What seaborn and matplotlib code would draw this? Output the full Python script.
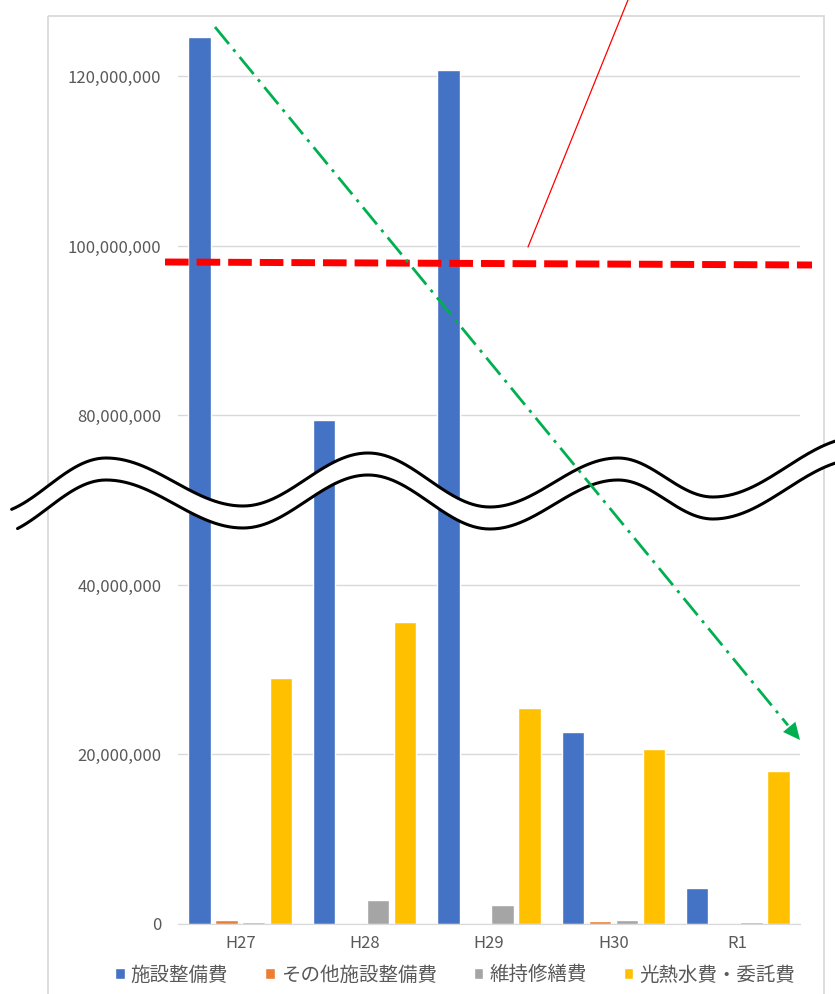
import numpy as np
import pandas as pd
import seaborn as sns
import matplotlib.pyplot as plt
from matplotlib.patches import Rectangle, Polygon

# データ（円）
years = ["H27", "H28", "H29", "H30", "R1"]
items = ["施設整備費", "その他施設整備費", "維持修繕費", "光熱水費・委託費"]
shisetsu = [124700000, 79000000, 120800000, 22700000, 4200000]
sonota = [470000, 0, 0, 300000, 0]
iji = [250000, 2830000, 2240000, 420000, 220000]
konetsu = [29000000, 35600000, 25500000, 20650000, 18050000]
colors = ["#4472C4", "#ED7D31", "#A5A5A5", "#FFC000"]
yticks = [0, 20000000, 40000000, 80000000, 100000000, 120000000]

rows = []
for name, vals in zip(items, [shisetsu, sonota, iji, konetsu]):
    for y, v in zip(years, vals):
        rows.append({"年度": y, "費目": name, "金額": v})
df = pd.DataFrame(rows)

sns.set_style("white")
plt.rcParams["font.family"] = ["Noto Sans CJK JP", "DejaVu Sans"]

W, H = 835, 994
fig = plt.figure(figsize=(W / 100, H / 100), dpi=100)

# 軸の位置（ピクセル）
ax_l, ax_r, ax_b, ax_t = 178, 800, 924, 25.6
ax = fig.add_axes([ax_l / W, 1 - ax_b / H, (ax_r - ax_l) / W, (ax_b - ax_t) / H])

sns.barplot(data=df, x="年度", y="金額", hue="費目", order=years, hue_order=items,
            palette=colors, saturation=1, width=0.87, gap=0.17, errorbar=None,
            ax=ax, zorder=2)


# 縦軸の省略（40M〜80M を圧縮）
def fwd(v):
    v = np.asarray(v, dtype=float)
    return np.where(v <= 40e6, v, np.where(v <= 80e6, 40e6 + (v - 40e6) / 2, v - 20e6))


def inv(d):
    d = np.asarray(d, dtype=float)
    return np.where(d <= 40e6, d, np.where(d <= 60e6, 40e6 + (d - 40e6) * 2, d + 20e6))


ax.set_yscale("function", functions=(fwd, inv))
ax.set_ylim(0, 126e6)
ax.set_xlim(-0.5, len(years) - 0.5)
ax.set_yticks(yticks)
ax.set_yticklabels([f"{v:,}" for v in yticks])
ax.yaxis.grid(True, color="#d9d9d9", lw=1)
ax.set_axisbelow(True)
for s in ["top", "left", "right"]:
    ax.spines[s].set_visible(False)
ax.spines["bottom"].set_color("#d9d9d9")
ax.tick_params(axis="y", length=0, pad=12, labelsize=12, labelcolor="#595959")
ax.tick_params(axis="x", length=0, pad=8, labelsize=12, labelcolor="#595959")
ax.set_xlabel("")
ax.set_ylabel("")

sns.move_legend(ax, "center", bbox_to_anchor=(455 / W, 1 - 975 / H),
                bbox_transform=fig.transFigure, ncol=4, frameon=False, title=None,
                fontsize=14, handlelength=0.5, handleheight=0.5,
                handletextpad=0.3, columnspacing=1.9)
for t in ax.get_legend().get_texts():
    t.set_color("#595959")

# 注記用のオーバーレイ（ピクセル座標）
ov = fig.add_axes([0, 0, 1, 1], zorder=5)
ov.set_xlim(0, W)
ov.set_ylim(H, 0)
ov.axis("off")

# グラフエリアの枠
ov.add_patch(Rectangle((48, 16), 776, 1100, fill=False, ec="#d9d9d9", lw=1.3))

# 波線（省略記号）
ext = [(-10, 514), (106, 458), (243, 506), (368, 453), (490, 507),
       (618, 458), (713, 497), (860, 437)]
xs, ys = [], []
for (x0, y0), (x1, y1) in zip(ext[:-1], ext[1:]):
    t = np.linspace(0, 1, 60)
    xs.append(x0 + (x1 - x0) * t)
    ys.append(y0 + (y1 - y0) * (1 - np.cos(np.pi * t)) / 2)
wx = np.concatenate(xs)
wy = np.concatenate(ys)
m = wx >= 10
ov.fill_between(wx[m], wy[m], wy[m] + 22, color="white", lw=0)
ov.plot(wx[m], wy[m], color="black", lw=2.2)
m2 = wx >= 16
ov.plot(wx[m2], wy[m2] + 22, color="black", lw=2.2)

# 赤線
ov.plot([165, 812], [262, 265], color="red", lw=5,
        ls=(0, (3.4, 1.15)), solid_capstyle="butt", dash_capstyle="butt")
ov.plot([528, 630], [247, -5], color="red", lw=0.9)

# 緑の矢印
tip = np.array([800.0, 740.0])
start = np.array([215.0, 27.0])
u = (tip - start) / np.linalg.norm(tip - start)
n = np.array([-u[1], u[0]])
base = tip - 17 * u
ov.plot([start[0], base[0] - 2 * u[0]], [start[1], base[1] - 2 * u[1]],
        color="#00B050", lw=2, ls=(0, (7.9, 2.5, 1.1, 2.5)), dash_capstyle="butt")
ov.add_patch(Polygon([tip, base + 8 * n, base - 8 * n], closed=True,
                     color="#00B050", lw=0))

fig.savefig("out.png", dpi=100)
